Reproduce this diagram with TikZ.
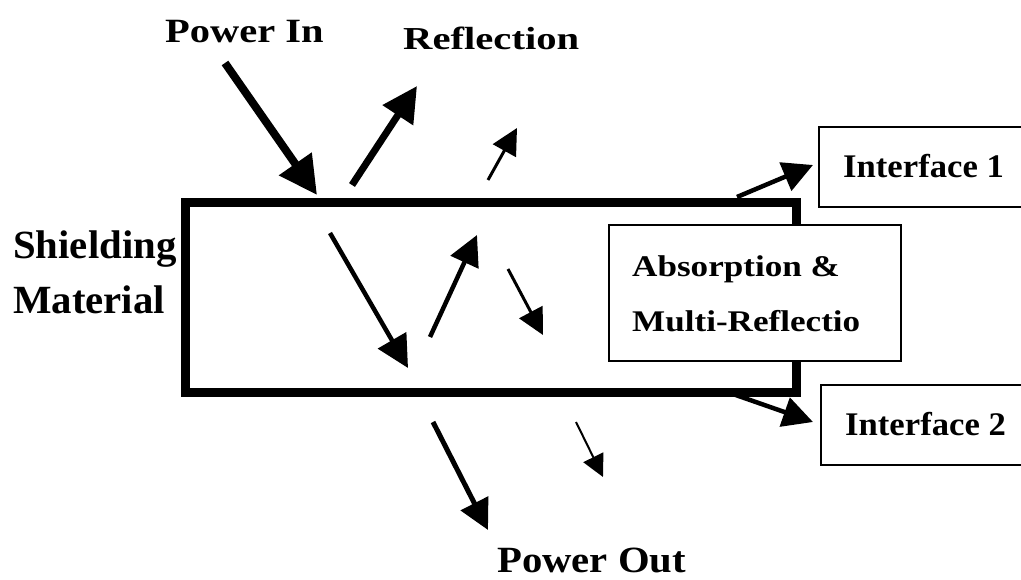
\documentclass[tikz,border=0pt]{standalone}
\usepackage{fontspec}
\setmainfont{Liberation Serif}
\usetikzlibrary{arrows.meta}
\newcommand{\lbl}[3]{{\fontsize{#1}{#1}\selectfont\bfseries\scalebox{#2}[1]{#3}}}
\tikzset{
  arr/.style 2 args={line width=#1, -{Triangle[length=#2,width=#2]}},
  thinbox/.style={draw, line width=1.2pt, inner sep=0pt, outer sep=0pt, anchor=north west},
  txt/.style={anchor=base west, inner sep=0pt}
}
\begin{document}
\begin{tikzpicture}[x=1pt,y=-1pt]
\useasboundingbox (0,0) rectangle (1021,580);
\clip (0,0) rectangle (1021,580);
\fill[white] (0,0) rectangle (1021,580);

% shielding material block
\node[draw, line width=9pt, inner sep=0pt, outer sep=0pt, anchor=north west,
      minimum width=611pt, minimum height=189pt] (shield) at (185,203) {};

% absorption box
\node[thinbox, fill=white, minimum width=292pt, minimum height=136pt] (absbox) at (609,225) {};
\node[txt] (abs1) at (632,277) {\lbl{30}{1.17}{Absorption \&}};
\node[txt] (abs2) at (632,332) {\lbl{30}{1.17}{Multi-Reflectio}};

% interface boxes
\node[thinbox, minimum width=230pt, minimum height=80pt] (if1box) at (819,127) {};
\node[txt] (if1) at (843,178) {\lbl{33}{1.05}{Interface 1}};
\node[thinbox, minimum width=230pt, minimum height=80pt] (if2box) at (821,385) {};
\node[txt] (if2) at (845,435) {\lbl{33}{1.05}{Interface 2}};

% labels
\node[txt] (pin) at (165,43) {\lbl{34}{1.19}{Power In}};
\node[txt] (refl) at (403,50) {\lbl{32}{1.27}{Reflection}};
\node[txt] (sh1) at (13,259) {\lbl{40}{1.02}{Shielding}};
\node[txt] (sh2) at (13,313) {\lbl{40}{1.02}{Material}};
\node[txt] (pout) at (497,572) {\lbl{37}{1.1}{Power Out}};

% arrow end points
\coordinate (a1s) at (225,63);  \coordinate (a1e) at (317,195);
\coordinate (a2s) at (352,185); \coordinate (a2e) at (417,86);
\coordinate (a3s) at (488,180); \coordinate (a3e) at (517,128);
\coordinate (a4s) at (330,233); \coordinate (a4e) at (408,368);
\coordinate (a5s) at (430,337); \coordinate (a5e) at (477,235);
\coordinate (a6s) at (508,269); \coordinate (a6e) at (543,335);
\coordinate (a7s) at (737,197); \coordinate (a7e) at (813,165);
\coordinate (a8s) at (730,393); \coordinate (a8e) at (813,422);
\coordinate (a9s) at (433,422); \coordinate (a9e) at (488,530);
\coordinate (a10s) at (576,422); \coordinate (a10e) at (603,477);

\draw[arr={8pt}{38pt}] (a1s) -- (a1e);
\draw[arr={7pt}{35pt}] (a2s) -- (a2e);
\draw[arr={3pt}{26pt}] (a3s) -- (a3e);
\draw[arr={4.5pt}{32pt}] (a4s) -- (a4e);
\draw[arr={4.5pt}{30pt}] (a5s) -- (a5e);
\draw[arr={3pt}{26pt}] (a6s) -- (a6e);
\draw[arr={4.5pt}{30pt}] (a7s) -- (a7e);
\draw[arr={4.5pt}{30pt}] (a8s) -- (a8e);
\draw[arr={5pt}{30pt}] (a9s) -- (a9e);
\draw[arr={2pt}{22pt}] (a10s) -- (a10e);
\end{tikzpicture}
\end{document}
